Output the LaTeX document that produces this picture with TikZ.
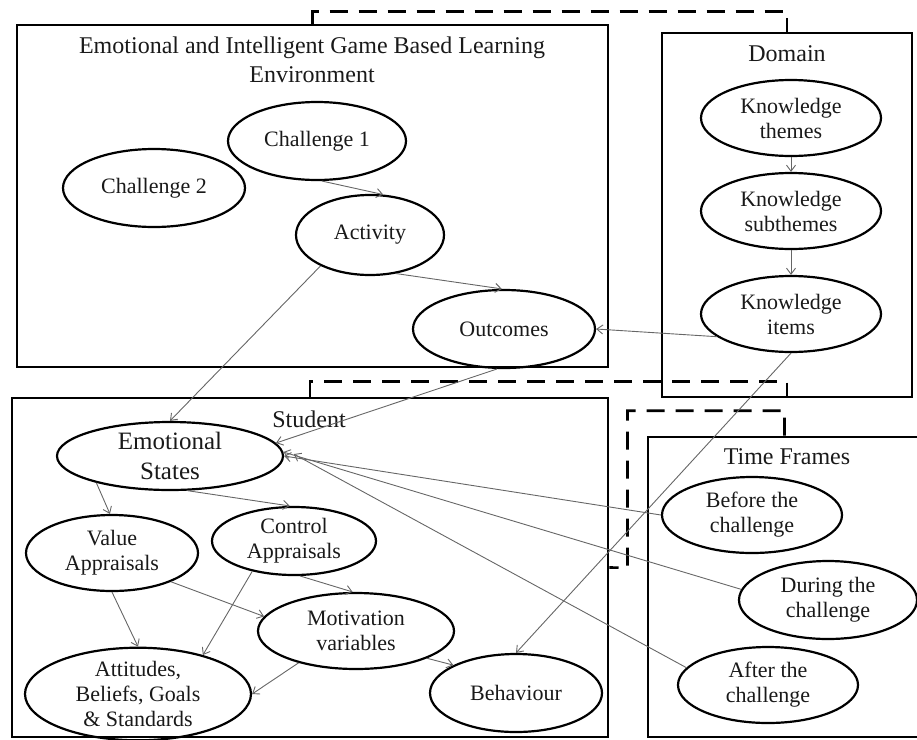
\documentclass[tikz,border=0pt]{standalone}
\usepackage{fontspec}
\setmainfont{Liberation Serif}
\usetikzlibrary{shapes.geometric,arrows.meta}
\begin{document}
\begin{tikzpicture}[x=1pt,y=-1pt,
 box/.style={draw=black,line width=2.6pt,rectangle,inner sep=0pt},
 dsh/.style={draw=black,line width=2.6pt,dash pattern=on 18pt off 11pt},
 ell/.style={draw=black,line width=2.2pt,ellipse,inner sep=0pt,align=center,font=\fontsize{22}{25}\selectfont,text=black!90},
 con/.style={draw=black!60,line width=0.9pt,-{Straight Barb[length=6pt,width=9pt,line width=0.9pt]}},
 ttl/.style={align=center,font=\fontsize{24}{29}\selectfont,text=black!90}]
\useasboundingbox (0,0) rectangle (917,739);
% containers
\node[box,minimum width=591pt,minimum height=342pt] (gble) at (312.5,196) {};
\node[box,minimum width=250pt,minimum height=364pt] (dom) at (787,215) {};
\node[box,minimum width=596pt,minimum height=339pt] (stu) at (310,567.5) {};
\node[box,minimum width=273pt,minimum height=300pt] (tf) at (784.5,587) {};
% titles
\node[ttl] (tg) at (312,60) {Emotional and Intelligent Game Based Learning\\Environment};
\node[ttl] (td) at (787,54) {Domain};
\node[ttl] (ts) at (309,419) {Student};
\node[ttl] (tt) at (787,457) {Time Frames};
% dashed links
\draw[dsh] (gble.north) -- ++(0,-12) -| (dom.north);
\draw[dsh] (stu.north) -- ++(0,-15) -| (dom.south);
\draw[dsh] (tf.north) -- ++(0,-25) -- ++(-157,0) -- ++(0,157) -- (stu.east);
% GBLE nodes
\node[ell,minimum width=178pt,minimum height=78pt] (ch1) at (317,141) {Challenge 1};
\node[ell,minimum width=182pt,minimum height=78pt] (ch2) at (154,188) {Challenge 2};
\node[ell,minimum width=148pt,minimum height=80pt] (act) at (370,235) {Activity};
\node[ell,minimum width=182pt,minimum height=78pt] (out) at (504,329) {Outcomes};
% Domain nodes
\node[ell,minimum width=180pt,minimum height=76pt] (kt) at (791,118) {Knowledge\\themes};
\node[ell,minimum width=180pt,minimum height=76pt] (ks) at (791,211) {Knowledge\\subthemes};
\node[ell,minimum width=180pt,minimum height=76pt] (ki) at (791,314) {Knowledge\\items};
% Student nodes
\node[ell,minimum width=226pt,minimum height=68pt,font=\fontsize{25}{30}\selectfont] (es) at (170,456) {Emotional\\States};
\node[ell,minimum width=172pt,minimum height=76pt] (va) at (112,553) {Value\\Appraisals};
\node[ell,minimum width=164pt,minimum height=68pt] (ca) at (294,541) {Control\\Appraisals};
\node[ell,minimum width=196pt,minimum height=76pt] (mv) at (356,631) {Motivation\\variables};
\node[ell,minimum width=226pt,minimum height=76pt] (abg) at (138,694) {Attitudes,\\Beliefs, Goals\\\& Standards};
\node[ell,minimum width=172pt,minimum height=78pt] (beh) at (516,693) {Behaviour};
% Time frame nodes
\node[ell,minimum width=180pt,minimum height=76pt] (bef) at (752,515) {Before the\\challenge};
\node[ell,minimum width=178pt,minimum height=78pt] (dur) at (828,600) {During the\\challenge};
\node[ell,minimum width=180pt,minimum height=76pt] (aft) at (768,685) {After the\\challenge};
% connectors
\draw[con] (ch1.277) -- (act.72);
\draw[con] (act.304) -- (out.93);
\draw[con] (act.212) -- (es.90);
\draw[con] (out.260) -- (es.7);
\draw[con] (kt.south) -- (ks.north);
\draw[con] (ks.south) -- (ki.north);
\draw[con] (ki.197) -- (out.east);
\draw[con] (ki.south) -- (beh.north);
\draw[con] (bef.west) -- (es.east);
\draw[con] (dur.173) -- (es.2);
\draw[con,shorten >=16pt] (aft.168) -- (es.5);
\draw[con] (es.200) -- (va.93);
\draw[con] (es.297) -- (ca.97);
\draw[con] (va.334) -- (mv.171);
\draw[con] (va.270) -- (abg.90);
\draw[con] (ca.216) -- (abg.31);
\draw[con] (ca.280) -- (mv.95);
\draw[con] (mv.209) -- (abg.east);
\draw[con] (mv.339) -- (beh.156);
\end{tikzpicture}
\end{document}
